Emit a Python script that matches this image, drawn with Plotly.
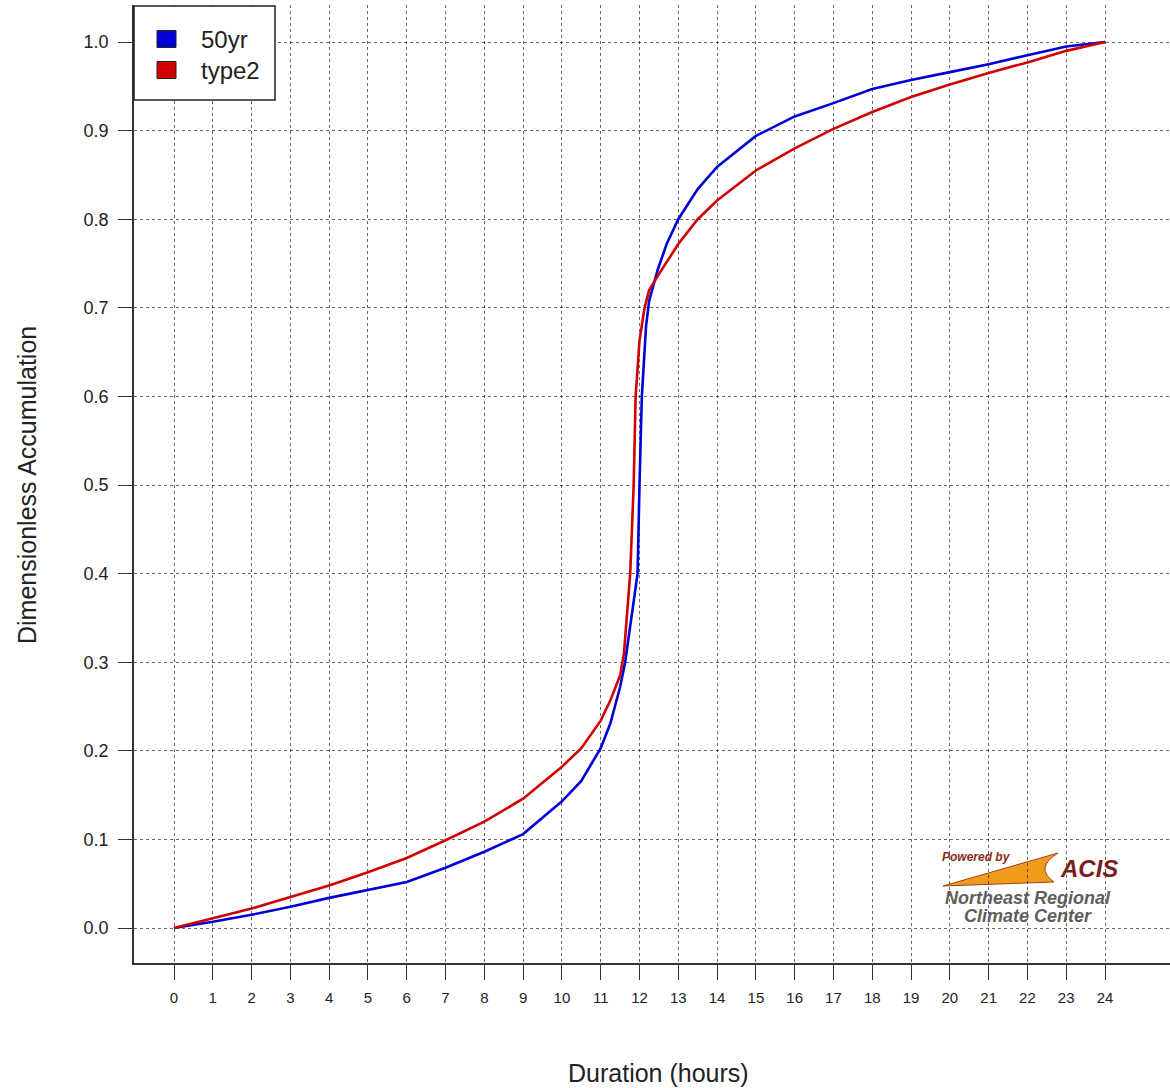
import plotly.graph_objects as go

# ---------------- data ----------------
series_names = ["50yr", "type2"]
series_colors = ["#0000d8", "#d00000"]

hours_50yr = [0, 1, 2, 3, 4, 5, 6, 7, 8, 9, 10, 10.5, 11, 11.25, 11.5, 11.63, 11.83,
              11.95, 12.0, 12.06, 12.17, 12.25, 12.47, 12.7, 13.0, 13.5, 14, 15,
              16, 17, 18, 19, 20, 21, 22, 23, 24]
accum_50yr = [0, 0.007, 0.015, 0.024, 0.034, 0.043, 0.052, 0.068, 0.086, 0.106,
              0.143, 0.166, 0.203, 0.231, 0.272, 0.30, 0.36, 0.40, 0.50, 0.60, 0.68,
              0.708, 0.743, 0.772, 0.80, 0.834, 0.859, 0.894, 0.916, 0.931,
              0.947, 0.957, 0.966, 0.975, 0.985, 0.995, 1.0]

hours_type2 = [0, 1, 2, 3, 4, 5, 6, 7, 8, 9, 10, 10.5, 11, 11.25, 11.5, 11.6, 11.76,
               11.85, 11.9, 12.0, 12.13, 12.25, 12.5, 13.0, 13.5, 14, 15, 16,
               17, 18, 19, 20, 21, 22, 23, 24]
accum_type2 = [0, 0.011, 0.022, 0.035, 0.048, 0.063, 0.079, 0.099, 0.120, 0.146,
               0.182, 0.203, 0.234, 0.257, 0.285, 0.31, 0.40, 0.50, 0.60, 0.663, 0.70,
               0.72, 0.738, 0.772, 0.800, 0.821, 0.855, 0.880, 0.902, 0.921,
               0.938, 0.952, 0.965, 0.977, 0.990, 1.0]

x_ticks = list(range(0, 25))
y_ticks = [0.0, 0.1, 0.2, 0.3, 0.4, 0.5, 0.6, 0.7, 0.8, 0.9, 1.0]

x_title = "Duration (hours)"
y_title = "Dimensionless Accumulation"

# ---------------- layout helpers ----------------
W, H = 1170, 1088
ML, MR, MT, MB = 134, 0, 5, 125
PW, PH = W - ML - MR, H - MT - MB


def px(x):
    return (x - ML) / PW


def py(y):
    return (MT + PH - y) / PH


FONT = "Liberation Sans, Arial, Helvetica, sans-serif"

fig = go.Figure()
fig.add_trace(go.Scatter(x=hours_50yr, y=accum_50yr, mode="lines",
                         name=series_names[0], showlegend=False,
                         line=dict(color=series_colors[0], width=2.6)))
fig.add_trace(go.Scatter(x=hours_type2, y=accum_type2, mode="lines",
                         name=series_names[1], showlegend=False,
                         line=dict(color=series_colors[1], width=2.6)))

shapes = []
annotations = []


def note(text, x, y, size, color, xanchor="center", angle=0):
    annotations.append(dict(text=text, xref="paper", yref="paper",
                            x=px(x), y=py(y), xanchor=xanchor, yanchor="middle",
                            textangle=angle, showarrow=False,
                            font=dict(family=FONT, size=size, color=color)))


# legend box (manual, to match the R-style legend)
shapes.append(dict(type="rect", xref="paper", yref="paper",
                   x0=px(134), x1=px(275), y0=py(100), y1=py(6),
                   line=dict(color="#222", width=1.5), fillcolor="white",
                   layer="above"))
for i, (name, col) in enumerate(zip(series_names, series_colors)):
    cy = 39 + i * 31
    shapes.append(dict(type="rect", xref="paper", yref="paper",
                       x0=px(157), x1=px(176), y0=py(cy + 8.5), y1=py(cy - 8.5),
                       line=dict(color="#222", width=1), fillcolor=col,
                       layer="above"))
    note(name, 199, cy, 24, "#222", xanchor="left")

# ACIS logo (white patch, orange swoosh and text)
shapes.append(dict(type="rect", xref="paper", yref="paper",
                   x0=px(915), x1=px(1125), y0=py(918), y1=py(842),
                   line=dict(width=0), fillcolor="white", layer="between"))
swoosh = "M {},{} L {},{} Q {},{} {},{} Z".format(
    px(943), py(886), px(1058), py(853), px(1034), py(868), px(1054), py(882))
shapes.append(dict(type="path", xref="paper", yref="paper", path=swoosh,
                   line=dict(color="#a0401a", width=1), fillcolor="#f29a1c",
                   layer="between"))
note("<b><i>Powered by</i></b>", 976, 857, 12, "#8b2c1c")
note("<b><i>ACIS</i></b>", 1089, 868, 24, "#7a1f1f")
note("<b><i>Northeast Regional</i></b>", 1028, 898, 18, "#5e5e5e")
note("<b><i>Climate Center</i></b>", 1028, 916, 18, "#5e5e5e")

# axis titles
note(y_title, 27, 485, 25, "#222", angle=-90)
note(x_title, 658, 1073, 25, "#222")

# axis ranges from pixel geometry (x: 0 at 174px, 24 at 1105px; y: 0 at 928, 1 at 42)
hr_px = (1105 - 174) / 24.0
x0 = 0 - (174 - ML) / hr_px
x1 = x0 + PW / hr_px
un_px = (928 - 42) / 1.0
y0 = 0 - (MT + PH - 928) / un_px
y1 = y0 + PH / un_px

fig.update_layout(
    width=W, height=H,
    margin=dict(l=ML, r=MR, t=MT, b=MB),
    plot_bgcolor="white", paper_bgcolor="white",
    font=dict(family=FONT, color="#222"),
    shapes=shapes, annotations=annotations,
    showlegend=False,
)
fig.update_xaxes(range=[x0, x1], tickvals=x_ticks, ticktext=[str(t) for t in x_ticks],
                 showgrid=True, gridcolor="rgba(0,0,0,0.6)", griddash="dot",
                 gridwidth=1, zeroline=False,
                 showline=True, linecolor="#333", linewidth=1.5,
                 ticks="outside", ticklen=15, tickwidth=1.2, tickcolor="#333",
                 ticklabelstandoff=5,
                 tickfont=dict(family=FONT, size=15, color="#222"))
fig.update_yaxes(range=[y0, y1], tickvals=y_ticks,
                 ticktext=["{:.1f}".format(v) for v in y_ticks],
                 showgrid=True, gridcolor="rgba(0,0,0,0.6)", griddash="dot",
                 gridwidth=1, zeroline=False,
                 showline=True, linecolor="#333", linewidth=1.5,
                 ticks="outside", ticklen=14, tickwidth=1.2, tickcolor="#333",
                 ticklabelstandoff=6,
                 tickfont=dict(family=FONT, size=18, color="#222"))

fig.write_html("out.html",
               config={"displayModeBar": False},
               post_script="document.body.style.margin='0';"
                           "document.body.style.overflow='hidden';")
